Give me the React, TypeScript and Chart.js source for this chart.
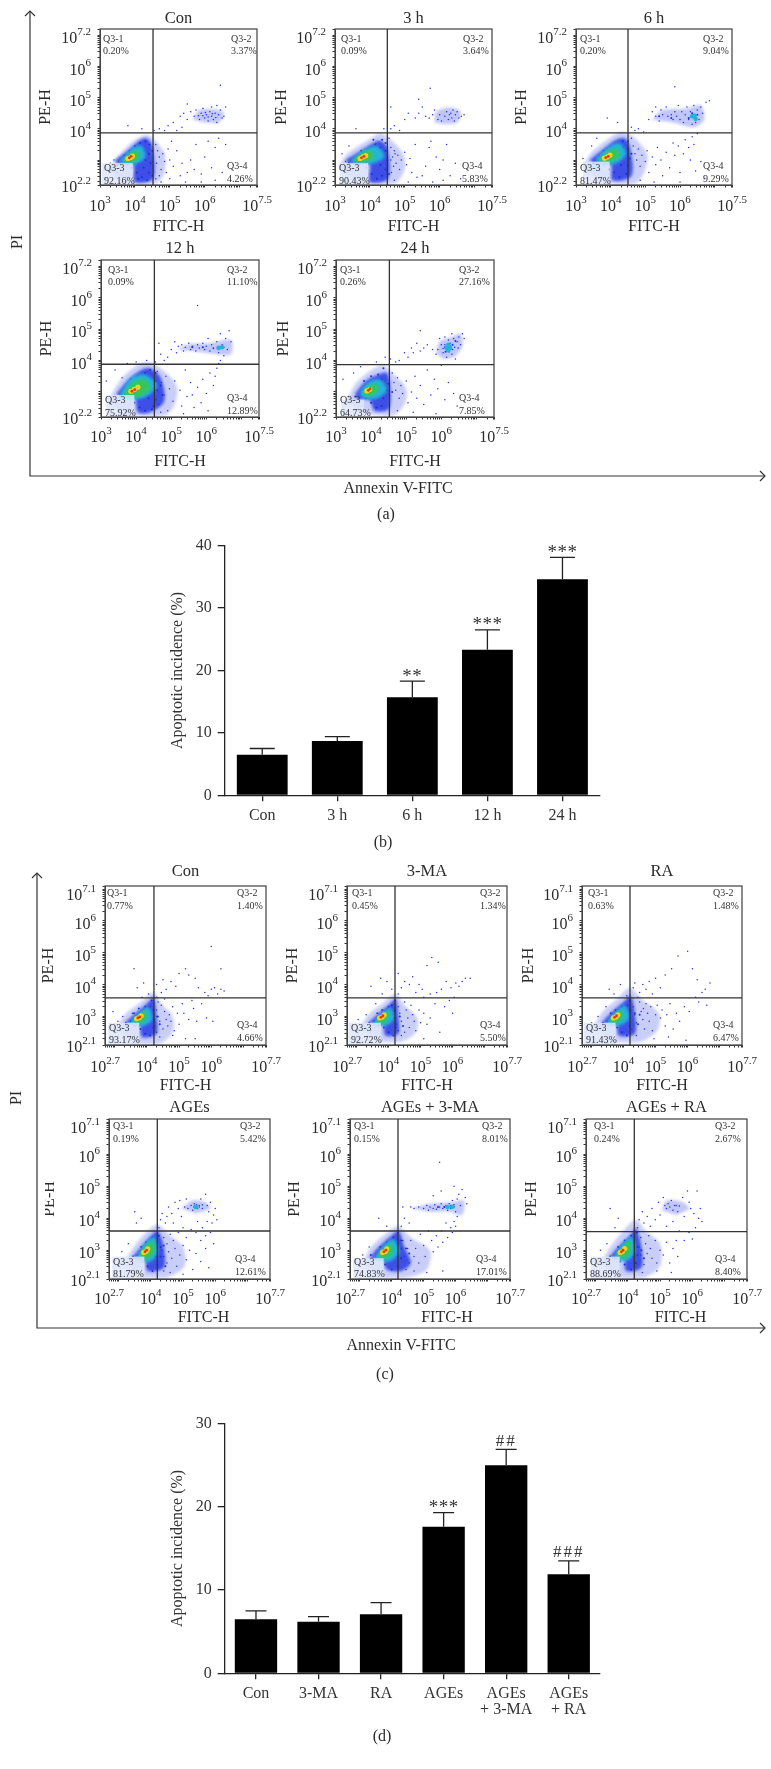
import React, { useEffect, useRef } from "react";
import { Chart, registerables } from "chart.js";
Chart.register(...registerables);

const FONT = "'Liberation Serif'";
const INK = "#2b2b2b";

// ---------- Bar data ----------
const bCats = ["Con", "3 h", "6 h", "12 h", "24 h"];
const bVals = [6.5, 8.7, 15.7, 23.3, 34.6];
const bTops = [7.5, 9.4, 18.3, 26.5, 38.1];
const bMarks = ["", "", "**", "***", "***"];
const dCats = ["Con", "3-MA", "RA", "AGEs", ["AGEs", "+ 3-MA"], ["AGEs", "+ RA"]];
const dVals = [6.5, 6.2, 7.1, 17.6, 25.0, 11.9];
const dTops = [7.5, 6.8, 8.5, 19.3, 26.9, 13.5];
const dMarks = ["", "", "", "***", "##", "###"];

// ---------- Flow-cytometry events (log10 x, log10 y) ----------
const a1Dots = [[4.6,3.5],[4.65,3.3],[4.7,3.1],[4.62,2.9],[4.75,2.7],[4.8,3.2],[4.85,2.95],[4.9,2.6],[4.7,2.5],[4.95,3.35],[5.0,3.0],[5.1,2.8],[5.05,3.6],[5.2,3.3],[5.3,2.5],[5.35,2.9],[5.5,2.6],[5.6,3.0],[5.7,2.7],[5.75,3.5],[5.9,2.55],[6.0,3.1],[6.1,3.6],[6.2,2.75],[6.3,3.4],[6.4,3.7],[6.5,2.6],[6.6,3.5],[4.55,3.95],[4.7,4.0],[4.85,3.95],[4.95,4.1],[5.1,4.2],[5.2,3.95],[5.3,4.4],[5.4,4.5],[5.5,4.3],[5.35,4.05],[5.6,4.55],[5.7,4.4],[5.75,4.6],[5.85,4.3],[5.9,4.5],[5.95,4.65],[6.0,4.35],[6.05,4.45],[6.1,4.25],[6.15,4.55],[6.2,4.4],[6.25,4.3],[6.3,4.5],[6.35,4.2],[6.4,4.45],[6.45,4.6],[6.5,4.35],[6.55,4.4],[6.2,4.7],[6.35,4.75],[6.6,4.7],[6.45,5.4],[5.5,4.8],[3.8,4.1],[4.2,4.0],[3.3,2.9],[3.4,3.0],[3.5,2.6],[3.2,2.7],[4.6,2.4],[4.75,2.3],[5.0,2.4],[5.45,2.3],[5.9,2.3],[6.3,2.35],[5.95,4.42],[6.1,4.38],[6.22,4.48],[6.02,4.52],[5.82,4.42],[6.32,4.36]];
const a1Body = [[3.5,2.85],[3.65,2.95],[3.75,2.85],[3.9,2.75],[4.05,2.6],[4.2,2.45],[4.35,2.35],[4.4,2.6],[4.25,2.75],[4.1,2.9],[4.3,3.0],[4.45,2.9],[4.4,3.2],[4.25,3.3],[4.1,3.3],[4.0,3.45],[4.15,3.55],[4.3,3.6],[4.42,3.5],[3.85,3.3],[3.7,3.15],[4.5,3.3],[4.5,2.5],[4.1,2.4]];
const a1Haze = [[3.25,2.75],[3.5,3.1],[3.95,3.6],[4.35,3.8],[4.6,3.6],[4.85,3.2],[4.85,2.6],[4.6,2.25],[3.6,2.25]];
const a1Blue = [[3.43,3.0],[3.8,3.3],[4.15,3.64],[4.34,3.7],[4.5,3.45],[4.52,2.4],[4.0,2.3],[3.95,2.88],[3.5,2.88]];
const a1Cyan = [[3.55,2.95],[3.95,3.4],[4.2,3.45],[4.3,3.1],[4.0,2.85],[3.7,2.85]];
const a1Green = [[3.65,2.98],[3.9,3.25],[4.1,3.3],[4.12,3.05],[3.9,2.92]];
const a1Yellow = [[3.8,3.05],[3.88,3.08],[3.93,3.13]];
const a1Red = [[3.84,3.07],[3.89,3.12]];
const a1Halo = [[5.65,4.3],[5.85,4.6],[6.3,4.62],[6.55,4.5],[6.4,4.2],[6.0,4.2]];
const a1Spot: number[][] = [];

const a2Dots = [[4.6,4.0],[4.7,4.1],[4.85,3.95],[5.0,4.3],[5.1,4.5],[4.6,4.7],[5.3,4.35],[5.4,4.5],[5.5,4.7],[5.6,4.4],[5.7,4.35],[5.8,4.45],[5.85,4.6],[5.95,4.3],[6.0,4.45],[6.05,4.25],[6.15,4.4],[6.2,4.55],[6.25,4.3],[6.28,4.45],[6.32,4.5],[6.35,4.35],[6.38,4.6],[6.42,4.25],[6.45,4.45],[6.5,4.55],[6.55,4.35],[6.62,4.4],[6.7,4.45],[5.73,5.3],[5.4,4.95],[4.55,3.7],[4.6,3.4],[4.65,3.1],[4.7,3.3],[4.75,2.9],[4.8,3.15],[4.85,2.7],[4.62,2.6],[4.9,3.0],[5.0,3.25],[5.05,2.85],[5.15,3.05],[5.2,2.6],[5.3,3.5],[5.35,2.45],[5.5,2.5],[5.6,2.8],[5.7,3.4],[5.75,3.6],[5.9,3.1],[6.0,2.7],[6.1,3.0],[6.2,3.5],[6.3,2.5],[6.45,2.9],[6.6,2.4],[3.2,3.2],[3.3,2.95],[3.15,2.7],[3.4,3.45],[3.6,4.0],[4.4,4.0],[4.7,2.35],[5.1,2.3],[5.8,2.3],[6.1,2.35],[4.6,3.0],[4.68,2.8],[4.72,3.2]];
const a2Body = [[3.4,2.9],[3.55,3.0],[3.7,2.85],[3.9,2.75],[4.05,2.55],[4.2,2.4],[4.35,2.5],[4.45,2.7],[4.3,2.85],[4.15,2.95],[4.35,3.1],[4.5,3.0],[4.45,3.3],[4.3,3.4],[4.15,3.5],[4.35,3.65],[4.45,3.55],[3.95,3.35],[3.75,3.3],[4.55,2.55],[4.1,3.65],[4.25,3.2]];
const a2Haze = [[3.1,2.8],[3.35,3.2],[3.9,3.6],[4.3,3.85],[4.6,3.65],[4.95,3.2],[5.0,2.7],[4.7,2.25],[3.6,2.25]];
const a2Blue = [[3.3,3.0],[3.75,3.3],[4.1,3.55],[4.3,3.62],[4.5,3.4],[4.52,2.4],[4.0,2.3],[3.98,2.88],[3.4,2.88]];
const a2Cyan = [[3.45,2.98],[3.85,3.35],[4.2,3.45],[4.42,3.1],[4.05,2.88],[3.6,2.88]];
const a2Green = [[3.5,2.98],[3.8,3.25],[4.05,3.3],[4.1,3.05],[3.85,2.93]];
const a2Yellow = [[3.72,3.05],[3.8,3.1],[3.88,3.14]];
const a2Red = [[3.76,3.07],[3.83,3.12]];
const a2Halo = [[5.85,4.2],[5.9,4.55],[6.3,4.68],[6.6,4.55],[6.5,4.2],[6.15,4.15]];
const a2Spot: number[][] = [];

const a3Dots = [[5.1,4.3],[5.2,4.55],[5.3,4.4],[5.4,4.25],[5.45,4.6],[5.5,4.45],[5.6,4.7],[5.65,4.4],[5.75,4.45],[5.8,4.3],[5.85,4.55],[5.9,4.4],[5.95,4.75],[6.0,4.3],[6.05,4.55],[6.1,4.2],[6.15,4.45],[6.2,4.7],[6.25,4.3],[6.3,4.55],[6.35,4.15],[6.4,4.75],[6.45,4.2],[6.5,4.6],[6.55,4.3],[6.6,4.7],[6.65,4.5],[6.75,4.85],[6.85,4.9],[5.85,5.35],[5.3,4.7],[4.6,4.05],[4.7,3.95],[4.8,4.0],[4.95,3.9],[4.6,3.7],[4.65,3.45],[4.7,3.2],[4.75,3.0],[4.8,3.35],[4.85,2.8],[4.9,3.15],[5.0,2.95],[5.05,3.3],[5.1,2.6],[5.2,3.1],[5.3,2.85],[5.35,3.4],[5.45,3.0],[5.5,2.5],[5.6,3.25],[5.7,2.75],[5.8,3.55],[5.85,3.15],[5.95,3.45],[6.0,2.6],[6.1,3.2],[6.15,3.65],[6.25,3.4],[6.3,3.0],[6.35,3.75],[6.4,3.5],[6.45,2.65],[6.5,3.85],[6.6,2.95],[6.7,2.4],[3.2,3.05],[3.3,2.75],[3.45,3.45],[3.6,3.7],[3.9,4.35],[4.2,4.2],[4.85,2.35],[5.25,2.3],[6.0,2.3]];
const a3Body = [[3.5,2.9],[3.65,3.0],[3.8,2.85],[3.95,2.7],[4.1,2.6],[4.25,2.45],[4.45,2.55],[4.5,2.8],[4.3,2.85],[4.15,2.95],[4.35,3.1],[4.55,3.05],[4.5,3.35],[4.35,3.4],[4.2,3.5],[4.35,3.6],[4.5,3.6],[4.0,3.4],[3.8,3.3],[4.6,3.2],[6.25,4.35],[6.4,4.4],[6.35,4.5],[6.5,4.45],[5.4,4.4],[5.75,4.35]];
const a3Haze = [[3.2,2.8],[3.45,3.25],[3.9,3.65],[4.3,3.9],[4.65,3.75],[5.05,3.2],[5.0,2.7],[4.7,2.25],[3.7,2.25]];
const a3Blue = [[3.4,3.0],[3.8,3.35],[4.15,3.65],[4.4,3.7],[4.55,3.45],[4.6,2.5],[4.05,2.35],[4.0,2.88],[3.5,2.88]];
const a3Cyan = [[3.55,3.0],[3.9,3.4],[4.25,3.55],[4.45,3.2],[4.15,2.88],[3.7,2.88]];
const a3Green = [[3.65,3.0],[3.95,3.3],[4.2,3.35],[4.25,3.1],[3.95,2.93]];
const a3Yellow = [[3.82,3.06],[3.9,3.1],[3.98,3.16]];
const a3Red = [[3.86,3.08],[3.93,3.12]];
const a3Halo = [[5.2,4.3],[5.5,4.6],[6.2,4.65],[6.6,4.75],[6.7,4.3],[6.4,4.05],[5.8,4.2]];
const a3Spot = [[6.42,4.42],[6.45,4.32],[6.35,4.4]];

const a4Dots = [[5.0,4.35],[5.1,4.6],[5.15,4.25],[5.2,4.45],[5.3,4.5],[5.35,4.3],[5.4,4.42],[5.5,4.55],[5.55,4.35],[5.6,4.45],[5.7,4.3],[5.75,4.5],[5.8,4.4],[5.9,4.55],[5.95,4.35],[6.0,4.45],[6.05,4.7],[6.1,4.3],[6.15,4.5],[6.2,4.4],[6.3,4.6],[6.35,4.25],[6.4,4.85],[6.45,4.5],[6.5,4.15],[6.55,4.7],[6.6,4.35],[6.65,4.95],[6.7,4.6],[5.75,5.75],[4.65,4.55],[4.7,4.2],[4.55,3.95],[4.8,4.0],[4.9,4.1],[6.35,3.9],[6.4,4.0],[6.3,3.75],[6.25,3.5],[6.2,3.2],[6.1,3.6],[6.0,2.95],[5.9,3.4],[5.85,2.65],[5.75,3.15],[5.65,2.5],[5.55,3.3],[5.45,2.85],[5.4,3.7],[5.3,2.55],[5.25,3.05],[5.1,3.35],[5.05,2.7],[4.95,3.1],[4.85,3.5],[4.8,2.9],[4.72,3.3],[4.65,2.6],[4.6,3.65],[4.9,2.4],[5.6,2.9],[3.15,3.35],[3.25,2.65],[3.4,3.7],[3.6,3.45],[3.75,3.9],[4.0,3.95],[4.3,4.0],[4.7,2.35],[5.35,2.3],[6.05,2.4],[6.2,4.38],[6.32,4.42],[6.42,4.4],[6.5,4.42]];
const a4Body = [[3.55,2.85],[3.7,3.0],[3.8,2.8],[3.95,2.65],[4.1,2.5],[4.25,2.4],[4.45,2.45],[4.55,2.75],[4.35,2.8],[4.2,2.95],[4.4,3.1],[4.6,3.05],[4.75,2.9],[4.55,3.35],[4.4,3.4],[4.25,3.6],[4.4,3.7],[4.55,3.6],[4.05,3.5],[3.85,3.4],[4.7,3.2],[4.5,2.55],[6.4,4.42],[5.6,4.42],[5.9,4.42]];
const a4Haze = [[3.2,2.7],[3.5,3.3],[3.9,3.75],[4.3,3.95],[4.7,3.75],[5.15,3.2],[5.1,2.6],[4.8,2.25],[3.7,2.25]];
const a4Blue = [[3.45,2.95],[3.8,3.4],[4.15,3.7],[4.4,3.75],[4.7,3.45],[4.8,2.7],[4.4,2.35],[4.05,2.35],[3.95,2.85],[3.5,2.85]];
const a4Cyan = [[3.55,2.95],[3.85,3.45],[4.25,3.55],[4.6,3.2],[4.3,2.85],[3.9,2.75],[3.6,2.8]];
const a4Green = [[3.65,2.95],[3.9,3.3],[4.25,3.4],[4.4,3.1],[4.1,2.85],[3.75,2.82]];
const a4Yellow = [[3.85,3.02],[3.95,3.08],[4.05,3.15]];
const a4Red = [[3.88,3.02],[3.96,3.07]];
const a4Halo = [[5.15,4.35],[5.5,4.52],[6.1,4.55],[6.7,4.65],[6.7,4.2],[6.3,4.2],[5.6,4.3]];
const a4Spot = [[6.45,4.42],[6.35,4.4]];

const a5Dots = [[6.0,4.5],[5.9,4.35],[5.85,4.2],[5.95,4.7],[6.05,4.25],[6.1,4.75],[6.15,4.1],[6.2,4.65],[6.3,4.2],[6.35,4.7],[6.4,4.05],[6.45,4.6],[6.5,4.75],[6.55,4.5],[6.6,4.85],[6.65,4.7],[6.3,4.85],[5.75,4.35],[5.6,4.5],[5.5,4.4],[5.4,4.3],[5.3,4.55],[5.2,4.25],[5.15,4.4],[5.05,4.1],[4.95,4.25],[4.8,4.0],[4.7,3.95],[4.55,4.05],[5.4,4.95],[4.4,4.1],[4.6,3.6],[4.65,3.3],[4.7,3.05],[4.75,3.45],[4.8,2.8],[4.85,3.2],[4.9,2.95],[5.0,3.35],[5.05,2.65],[5.15,3.0],[5.25,3.5],[5.3,2.8],[5.4,3.2],[5.5,2.6],[5.6,3.7],[5.7,2.9],[5.8,3.4],[5.9,3.1],[6.0,3.85],[6.1,2.75],[6.2,3.3],[6.35,2.95],[6.45,2.55],[3.2,3.4],[3.35,2.85],[3.5,3.6],[3.7,3.8],[4.15,3.95],[4.75,2.4],[5.2,2.35],[5.85,2.3],[6.1,4.5],[6.25,4.55],[6.38,4.42],[6.48,4.4],[6.05,4.38],[6.22,4.28],[6.32,4.35]];
const a5Body = [[3.55,2.85],[3.7,2.95],[3.85,2.8],[4.0,2.65],[4.15,2.5],[4.3,2.55],[4.35,2.8],[4.2,2.95],[4.45,3.05],[4.6,3.0],[4.5,3.25],[4.3,3.4],[4.2,3.55],[4.35,3.75],[4.0,3.5],[3.8,3.35],[6.1,4.42],[6.25,4.45],[6.18,4.32],[6.32,4.5],[6.12,4.28],[6.4,4.62]];
const a5Haze = [[3.3,2.7],[3.55,3.25],[3.95,3.65],[4.35,3.85],[4.65,3.55],[5.0,3.1],[4.95,2.6],[4.6,2.25],[3.8,2.3]];
const a5Blue = [[3.55,2.95],[3.85,3.35],[4.2,3.55],[4.45,3.6],[4.55,3.1],[4.5,2.45],[4.1,2.4],[3.95,2.75],[3.6,2.75]];
const a5Cyan = [[3.65,2.95],[3.9,3.3],[4.25,3.4],[4.45,3.05],[4.15,2.78],[3.8,2.78]];
const a5Green = [[3.75,2.95],[3.95,3.2],[4.15,3.25],[4.2,3.02],[3.95,2.85]];
const a5Yellow = [[3.88,3.03],[3.96,3.08]];
const a5Red = [[3.92,3.05],[3.97,3.1]];
const a5Halo = [[5.85,4.25],[5.95,4.6],[6.3,4.75],[6.55,4.85],[6.6,4.45],[6.35,4.1],[6.05,4.05]];
const a5Spot = [[6.15,4.4],[6.25,4.4],[6.2,4.5],[6.2,4.32]];

const c1Dots = [[4.3,3.6],[4.45,3.75],[4.6,3.85],[4.3,4.0],[4.5,4.15],[4.75,4.1],[4.9,3.95],[5.0,4.35],[5.2,4.5],[5.3,4.3],[5.5,4.2],[5.6,3.9],[5.8,3.75],[5.9,3.65],[6.0,3.85],[6.1,3.9],[6.2,3.7],[6.3,3.85],[6.4,3.8],[6.0,5.2],[6.3,4.5],[3.6,4.5],[3.9,4.05],[3.7,3.9],[4.05,3.7],[3.85,3.6],[3.55,3.1],[3.25,3.0],[3.1,2.85],[2.95,3.15],[4.3,3.2],[4.35,3.0],[4.4,2.85],[4.25,2.7],[4.5,2.6],[4.45,3.35],[4.55,3.15],[4.6,2.9],[4.65,2.7],[4.7,3.05],[4.75,2.85],[4.8,3.3],[4.85,2.55],[4.95,3.1],[5.0,2.75],[5.1,3.4],[5.15,3.1],[5.3,2.9],[5.4,3.5],[5.45,3.25],[5.55,2.85],[5.7,3.4],[5.85,2.95],[6.05,2.85],[5.2,2.3],[5.5,2.3],[4.4,2.35],[4.8,2.4],[4.3,2.5],[4.35,3.45],[4.55,3.55]];
const c1Body = [[3.35,2.8],[3.5,2.85],[3.65,2.7],[3.8,2.6],[3.95,2.45],[4.1,2.4],[4.2,2.65],[4.2,2.9],[4.05,2.95],[4.2,3.2],[4.1,3.3],[4.15,3.5],[3.95,3.3],[3.75,3.25],[3.6,3.1],[4.32,3.0],[4.4,2.75]];
const c1Haze = [[3.05,2.65],[3.35,3.1],[3.75,3.4],[4.2,3.75],[4.45,3.4],[4.8,3.0],[4.8,2.5],[4.4,2.15],[3.6,2.15]];
const c1Blue = [[3.3,2.78],[3.65,3.1],[4.0,3.4],[4.2,3.6],[4.3,3.0],[4.3,2.45],[3.85,2.35],[3.8,2.75]];
const c1Cyan = [[3.45,2.8],[3.8,3.15],[4.05,3.3],[4.17,2.9],[3.9,2.7],[3.55,2.72]];
const c1Green = [[3.55,2.84],[3.8,3.08],[3.97,3.18],[3.97,2.92],[3.75,2.75]];
const c1Yellow = [[3.68,2.93],[3.76,2.96],[3.82,3.02]];
const c1Red = [[3.72,2.95],[3.78,2.98]];
const c1Halo: number[][] = [];
const c1Spot: number[][] = [];

const c2Dots = [[4.3,3.7],[4.4,3.9],[4.5,4.1],[4.3,4.35],[4.65,4.0],[4.75,4.25],[4.85,3.75],[4.95,4.0],[5.05,3.85],[5.2,4.6],[5.35,4.85],[5.55,4.7],[5.1,3.6],[5.3,3.7],[5.5,3.75],[5.65,3.85],[5.8,4.1],[5.95,3.9],[6.05,3.6],[6.1,4.05],[6.2,3.95],[6.3,4.1],[6.4,4.2],[6.55,4.2],[5.75,3.3],[5.9,3.5],[6.0,3.1],[3.45,3.95],[3.75,4.2],[3.95,4.1],[4.1,3.85],[3.8,3.7],[3.6,3.4],[3.3,3.05],[3.05,2.9],[4.3,3.3],[4.35,3.1],[4.4,2.85],[4.25,2.75],[4.5,3.45],[4.55,3.2],[4.6,2.95],[4.65,2.65],[4.7,3.35],[4.75,3.05],[4.8,2.85],[4.85,2.55],[4.95,3.2],[5.0,2.8],[5.1,3.1],[5.2,2.75],[5.3,2.95],[5.45,3.4],[5.6,2.5],[5.1,2.3],[4.4,2.4],[4.5,2.5],[4.3,2.55]];
const c2Body = [[3.4,2.8],[3.55,2.85],[3.7,2.72],[3.85,2.65],[4.0,2.5],[4.15,2.4],[4.22,2.65],[4.2,2.95],[4.05,2.9],[4.2,3.2],[4.1,3.35],[4.2,3.5],[4.0,3.3],[3.8,3.2],[3.65,3.1],[4.35,3.0],[4.45,2.7]];
const c2Haze = [[3.1,2.65],[3.4,3.1],[3.8,3.4],[4.2,3.7],[4.5,3.35],[4.9,2.95],[4.85,2.5],[4.4,2.2],[3.7,2.2]];
const c2Blue = [[3.35,2.78],[3.7,3.1],[4.05,3.4],[4.22,3.55],[4.3,3.05],[4.3,2.45],[3.9,2.4],[3.85,2.75]];
const c2Cyan = [[3.5,2.8],[3.82,3.12],[4.05,3.28],[4.18,2.95],[3.95,2.72],[3.6,2.72]];
const c2Green = [[3.6,2.86],[3.82,3.06],[3.98,3.15],[3.98,2.92],[3.8,2.76]];
const c2Yellow = [[3.72,2.95],[3.8,2.98],[3.86,3.05]];
const c2Red = [[3.76,2.97],[3.82,3.02]];
const c2Halo: number[][] = [];
const c2Spot: number[][] = [];

const c3Dots = [[4.3,3.9],[4.35,4.05],[4.5,3.75],[4.6,4.0],[4.7,3.85],[4.8,4.1],[4.9,3.7],[5.0,4.2],[5.15,3.9],[5.3,4.3],[5.5,4.5],[5.7,4.9],[6.0,5.05],[6.15,4.5],[6.25,3.6],[6.35,3.45],[6.45,3.75],[6.55,3.85],[6.7,4.05],[6.6,3.35],[6.3,4.15],[6.05,3.15],[5.9,3.3],[5.75,2.85],[3.55,3.85],[3.7,3.7],[3.9,4.0],[4.1,3.65],[3.45,3.3],[3.2,3.0],[3.0,2.8],[4.3,3.3],[4.35,3.05],[4.4,2.8],[4.5,3.45],[4.55,3.15],[4.6,2.9],[4.65,2.6],[4.7,3.4],[4.75,3.1],[4.8,2.85],[4.85,3.3],[4.9,2.55],[5.0,3.05],[5.05,3.35],[5.15,2.95],[5.2,3.2],[5.3,2.7],[5.35,3.05],[5.45,3.4],[5.55,2.6],[5.65,3.1],[4.4,2.4],[4.95,2.3],[5.4,2.35],[5.95,2.25],[4.25,2.6],[4.45,3.6],[4.62,3.25]];
const c3Body = [[3.35,2.8],[3.5,2.85],[3.65,2.72],[3.8,2.65],[3.95,2.5],[4.1,2.4],[4.2,2.7],[4.2,2.95],[4.05,2.9],[4.2,3.2],[4.12,3.35],[4.2,3.5],[3.95,3.3],[3.75,3.2],[3.6,3.1],[4.35,3.1],[4.45,2.75],[4.5,3.05]];
const c3Haze = [[3.05,2.65],[3.35,3.15],[3.75,3.5],[4.2,3.9],[4.55,3.55],[5.1,3.1],[5.05,2.55],[4.5,2.2],[3.65,2.2]];
const c3Blue = [[3.3,2.78],[3.65,3.15],[4.0,3.45],[4.22,3.65],[4.35,3.1],[4.35,2.45],[3.85,2.4],[3.8,2.75]];
const c3Cyan = [[3.45,2.8],[3.75,3.15],[4.03,3.35],[4.18,2.95],[3.9,2.72],[3.55,2.72]];
const c3Green = [[3.55,2.86],[3.76,3.08],[3.95,3.2],[3.95,2.92],[3.72,2.76]];
const c3Yellow = [[3.68,2.95],[3.76,2.98],[3.82,3.05]];
const c3Red = [[3.72,2.97],[3.78,3.02]];
const c3Halo: number[][] = [];
const c3Spot: number[][] = [];

const c4Dots = [[4.25,3.7],[4.3,3.95],[4.35,4.15],[4.45,3.85],[4.5,4.05],[4.55,4.35],[4.65,4.15],[4.7,3.85],[4.75,4.5],[4.85,4.3],[4.9,4.55],[4.95,4.05],[5.05,4.35],[5.1,4.6],[5.15,4.3],[5.25,4.4],[5.3,4.25],[5.35,4.45],[5.45,4.3],[5.5,4.35],[5.55,4.6],[5.6,4.3],[5.7,4.75],[5.75,4.4],[5.8,4.2],[5.85,4.5],[5.95,4.1],[6.0,4.3],[6.05,3.95],[5.9,3.85],[5.75,3.9],[5.6,3.7],[5.45,3.9],[5.85,3.55],[5.7,3.45],[5.55,3.3],[5.4,3.55],[5.25,3.65],[5.1,3.4],[5.0,3.7],[4.85,3.55],[4.7,3.3],[4.6,3.5],[4.5,3.2],[4.4,3.4],[4.35,3.0],[4.4,2.8],[4.5,2.6],[4.55,2.95],[4.65,2.75],[4.75,3.05],[4.8,2.5],[4.9,2.85],[5.0,3.15],[5.1,2.7],[5.2,3.0],[5.3,2.4],[5.4,2.9],[5.55,2.65],[5.7,3.05],[5.8,2.45],[5.95,3.2],[3.5,4.2],[3.7,4.0],[3.55,3.85],[3.3,3.2],[3.1,2.95],[4.4,2.35],[4.6,2.3],[5.0,2.25],[5.35,4.38],[5.42,4.42],[5.5,4.4],[5.6,4.42]];
const c4Body = [[3.45,2.8],[3.6,2.75],[3.75,2.65],[3.9,2.5],[4.05,2.35],[4.2,2.55],[4.3,2.8],[4.15,2.8],[4.3,3.1],[4.15,3.2],[4.25,3.45],[4.05,3.4],[3.85,3.25],[3.7,3.1],[4.4,3.15],[4.45,2.5],[5.35,4.35]];
const c4Haze = [[3.15,2.6],[3.5,3.15],[3.85,3.55],[4.2,3.8],[4.55,3.5],[5.0,3.1],[5.05,2.5],[4.5,2.15],[3.7,2.15]];
const c4Blue = [[3.4,2.75],[3.7,3.1],[4.05,3.5],[4.22,3.6],[4.4,3.1],[4.4,2.45],[3.9,2.35],[3.85,2.75]];
const c4Cyan = [[3.55,2.75],[3.8,3.2],[4.1,3.42],[4.22,2.95],[4.0,2.65],[3.65,2.65]];
const c4Green = [[3.62,2.8],[3.82,3.12],[4.05,3.28],[4.1,2.92],[3.85,2.7]];
const c4Yellow = [[3.78,2.93],[3.85,2.96],[3.9,3.04]];
const c4Red = [[3.82,2.95],[3.87,3.0]];
const c4Halo = [[4.95,4.3],[5.3,4.55],[5.7,4.5],[5.85,4.3],[5.4,4.15]];
const c4Spot = [[5.4,4.35]];

const c5Dots = [[4.6,4.35],[4.7,4.3],[4.85,4.35],[5.0,4.3],[5.1,4.4],[5.15,4.25],[5.2,4.35],[5.3,4.3],[5.35,4.42],[5.4,4.28],[5.5,4.35],[5.55,4.45],[5.6,4.3],[5.7,4.4],[5.75,4.25],[5.8,4.45],[5.85,4.3],[5.9,4.55],[5.95,4.35],[6.0,4.2],[6.05,4.6],[6.1,4.75],[6.15,4.4],[6.2,4.9],[6.3,4.65],[6.35,4.45],[5.5,5.75],[5.55,4.85],[5.95,5.0],[5.3,4.7],[4.35,4.35],[4.4,4.0],[4.55,3.85],[4.3,3.75],[5.95,3.9],[6.0,3.75],[6.05,4.05],[5.9,3.55],[5.85,3.7],[5.75,3.4],[5.7,3.85],[5.6,3.25],[5.55,3.6],[5.45,3.1],[5.4,3.45],[5.3,2.95],[5.25,3.3],[5.15,3.6],[5.05,2.8],[5.0,3.15],[4.9,3.5],[4.85,2.6],[4.75,3.05],[4.7,2.8],[4.6,3.3],[4.55,2.6],[4.5,3.05],[4.4,2.8],[4.35,3.3],[3.6,4.0],[3.85,3.75],[3.3,3.1],[3.1,2.85],[5.1,2.3],[5.6,2.35],[4.7,2.35],[4.45,2.4],[5.95,4.42],[5.85,4.4],[5.75,4.33],[5.65,4.36]];
const c5Body = [[3.35,2.85],[3.5,2.75],[3.65,2.7],[3.8,2.55],[4.0,2.4],[4.2,2.5],[4.3,2.75],[4.15,2.8],[4.3,3.05],[4.15,3.2],[4.3,3.3],[4.2,3.55],[4.05,3.4],[3.85,3.25],[3.65,3.1],[4.45,3.05],[4.55,2.9],[5.85,4.35],[5.65,4.35],[5.45,4.35]];
const c5Haze = [[3.1,2.6],[3.35,3.1],[3.8,3.5],[4.2,3.75],[4.6,3.4],[5.2,3.0],[5.1,2.4],[4.5,2.15],[3.6,2.15]];
const c5Blue = [[3.3,2.75],[3.6,3.1],[4.0,3.45],[4.22,3.6],[4.4,3.1],[4.6,2.6],[4.3,2.35],[3.85,2.4],[3.75,2.75]];
const c5Cyan = [[3.45,2.75],[3.75,3.15],[4.05,3.35],[4.25,2.95],[3.95,2.65],[3.55,2.68]];
const c5Green = [[3.55,2.82],[3.78,3.08],[4.0,3.2],[4.02,2.9],[3.78,2.72]];
const c5Yellow = [[3.72,2.93],[3.8,2.96],[3.85,3.04]];
const c5Red = [[3.76,2.95],[3.82,3.0]];
const c5Halo = [[4.6,4.3],[5.2,4.45],[5.9,4.5],[6.25,4.55],[6.2,4.1],[5.8,4.2],[5.2,4.2]];
const c5Spot = [[5.9,4.36],[5.75,4.35]];

const c6Dots = [[4.3,3.7],[4.35,3.95],[4.45,4.2],[4.5,3.85],[4.6,4.05],[4.7,3.75],[4.75,4.3],[4.85,3.95],[4.95,4.5],[5.0,4.1],[5.1,4.65],[5.15,4.4],[5.2,4.3],[5.3,4.35],[5.35,4.55],[5.4,4.25],[5.5,4.4],[5.55,4.2],[5.6,4.38],[5.7,4.65],[5.75,4.05],[5.85,4.85],[5.9,4.5],[5.95,4.3],[6.05,4.15],[6.15,4.85],[6.2,4.0],[6.3,3.9],[6.25,4.3],[5.2,3.75],[5.4,3.9],[5.6,3.6],[5.75,3.3],[5.9,3.55],[6.0,3.35],[6.1,3.7],[5.5,3.3],[3.45,4.3],[3.7,4.0],[3.6,3.7],[3.35,3.2],[3.15,3.0],[4.4,3.4],[4.35,3.1],[4.4,2.85],[4.5,2.55],[4.55,3.2],[4.6,2.9],[4.65,3.45],[4.7,3.05],[4.75,2.75],[4.85,3.3],[4.9,2.6],[5.0,3.0],[5.1,2.85],[5.2,3.25],[5.3,2.6],[5.4,3.05],[5.55,2.8],[4.45,2.3],[4.9,2.35],[5.35,2.3],[5.25,4.45],[5.45,4.4]];
const c6Body = [[3.45,2.8],[3.6,2.75],[3.75,2.65],[3.9,2.55],[4.1,2.4],[4.25,2.6],[4.3,2.85],[4.15,2.8],[4.3,3.1],[4.18,3.25],[4.28,3.55],[4.1,3.45],[3.9,3.3],[3.7,3.1],[4.42,3.0],[4.5,2.75]];
const c6Haze = [[3.15,2.6],[3.45,3.1],[3.85,3.6],[4.25,3.95],[4.55,3.6],[5.0,3.2],[5.0,2.5],[4.5,2.15],[3.7,2.15]];
const c6Blue = [[3.4,2.75],[3.7,3.1],[4.1,3.5],[4.25,3.7],[4.42,3.1],[4.42,2.45],[3.95,2.35],[3.9,2.75]];
const c6Cyan = [[3.55,2.78],[3.82,3.18],[4.12,3.42],[4.22,2.95],[4.0,2.68],[3.65,2.68]];
const c6Green = [[3.65,2.84],[3.85,3.12],[4.07,3.3],[4.08,2.92],[3.85,2.72]];
const c6Yellow = [[3.76,2.93],[3.83,2.96],[3.9,3.05]];
const c6Red = [[3.8,2.95],[3.85,3.0]];
const c6Halo = [[5.05,4.25],[5.2,4.55],[5.7,4.5],[5.9,4.3],[5.5,4.1]];
const c6Spot: number[][] = [];

// ---------- Axis tick exponents ----------
const aXLabels = [3, 4, 5, 6, 7.5];
const aYLabels = [2.2, 4, 5, 6, 7.2];
const cXLabels = [2.7, 4, 5, 6, 7.7];
const cYLabels = [2.1, 3, 4, 5, 6, 7.1];

type Panel = any;
const panels: Panel[] = [
  { t: "Con", box: [100, 29, 157, 156], gx: 4.52, gy: 3.87, sx: 3, ex: 7.5, sy: 2.2, ey: 7.2, xl: aXLabels, yl: aYLabels, pct: ["0.20%", "3.37%", "92.16%", "4.26%"], d: [a1Dots, a1Body, a1Haze, a1Blue, a1Cyan, a1Green, a1Yellow, a1Red, a1Halo, a1Spot], pale: [3.05, 3.94, 2.2, 2.9], q: [3, -26, -30], pe: -54, fx: 0, ty: -10, fy: 42, xy: 22, row: "a" },
  { t: "3 h", box: [335, 29, 157, 156], gx: 4.5, gy: 3.87, sx: 3, ex: 7.5, sy: 2.2, ey: 7.2, xl: aXLabels, yl: aYLabels, pct: ["0.09%", "3.64%", "90.43%", "5.83%"], d: [a2Dots, a2Body, a2Haze, a2Blue, a2Cyan, a2Green, a2Yellow, a2Red, a2Halo, a2Spot], pale: [3.14, 3.95, 2.2, 2.9], q: [6, -29, -30], pe: -53, fx: 0, ty: -10, fy: 42, xy: 22, row: "a" },
  { t: "6 h", box: [576, 29, 156, 156], gx: 4.5, gy: 3.87, sx: 3, ex: 7.5, sy: 2.2, ey: 7.2, xl: aXLabels, yl: aYLabels, pct: ["0.20%", "9.04%", "81.47%", "9.29%"], d: [a3Dots, a3Body, a3Haze, a3Blue, a3Cyan, a3Green, a3Yellow, a3Red, a3Halo, a3Spot], pale: [3.2, 3.97, 2.2, 2.95], q: [4, -29, -29], pe: -54, fx: 0, ty: -10, fy: 42, xy: 22, row: "a" },
  { t: "12 h", box: [101, 260, 158, 157], gx: 4.52, gy: 3.88, sx: 3, ex: 7.5, sy: 2.2, ey: 7.2, xl: aXLabels, yl: aYLabels, pct: ["0.09%", "11.10%", "75.92%", "12.89%"], d: [a4Dots, a4Body, a4Haze, a4Blue, a4Cyan, a4Green, a4Yellow, a4Red, a4Halo, a4Spot], pale: [3.15, 3.95, 2.2, 2.9], q: [7, -32, -32], pe: -54, fx: 0, ty: -11, fy: 45, xy: 21, row: "a" },
  { t: "24 h", box: [336, 260, 158, 157], gx: 4.52, gy: 3.87, sx: 3, ex: 7.5, sy: 2.2, ey: 7.2, xl: aXLabels, yl: aYLabels, pct: ["0.26%", "27.16%", "64.73%", "7.85%"], d: [a5Dots, a5Body, a5Haze, a5Blue, a5Cyan, a5Green, a5Yellow, a5Red, a5Halo, a5Spot], pale: [3.15, 3.8, 2.2, 2.75], q: [4, -35, -35], pe: -52, fx: 0, ty: -11, fy: 45, xy: 21, row: "a" },
  { t: "Con", box: [105, 886, 161, 159], gx: 4.22, gy: 3.58, sx: 2.7, ex: 7.7, sy: 2.1, ey: 7.1, xl: cXLabels, yl: cYLabels, pct: ["0.77%", "1.40%", "93.17%", "4.66%"], d: [c1Dots, c1Body, c1Haze, c1Blue, c1Cyan, c1Green, c1Yellow, c1Red, c1Halo, c1Spot], pale: [2.8, 3.76, 2.1, 2.8], q: [2, -29, -29], pe: -56, fx: 0, ty: -14, fy: 41, xy: 23, row: "c" },
  { t: "3-MA", box: [347, 886, 160, 159], gx: 4.2, gy: 3.58, sx: 2.7, ex: 7.7, sy: 2.1, ey: 7.1, xl: cXLabels, yl: cYLabels, pct: ["0.45%", "1.34%", "92.72%", "5.50%"], d: [c2Dots, c2Body, c2Haze, c2Blue, c2Cyan, c2Green, c2Yellow, c2Red, c2Halo, c2Spot], pale: [2.75, 3.76, 2.1, 2.8], q: [5, -27, -27], pe: -54, fx: 0, ty: -14, fy: 41, xy: 23, row: "c" },
  { t: "RA", box: [582, 886, 160, 159], gx: 4.2, gy: 3.58, sx: 2.7, ex: 7.7, sy: 2.1, ey: 7.1, xl: cXLabels, yl: cYLabels, pct: ["0.63%", "1.48%", "91.43%", "6.47%"], d: [c3Dots, c3Body, c3Haze, c3Blue, c3Cyan, c3Green, c3Yellow, c3Red, c3Halo, c3Spot], pale: [2.75, 3.75, 2.1, 2.8], q: [6, -29, -29], pe: -53, fx: 0, ty: -14, fy: 41, xy: 23, row: "c" },
  { t: "AGEs", box: [109, 1119, 161, 160], gx: 4.2, gy: 3.6, sx: 2.7, ex: 7.7, sy: 2.1, ey: 7.1, xl: cXLabels, yl: cYLabels, pct: ["0.19%", "5.42%", "81.79%", "12.61%"], d: [c4Dots, c4Body, c4Haze, c4Blue, c4Cyan, c4Green, c4Yellow, c4Red, c4Halo, c4Spot], pale: [2.8, 3.8, 2.1, 2.8], q: [4, -30, -35], pe: -59, fx: 14, ty: -11, fy: 39, xy: 21, row: "c" },
  { t: "AGEs + 3-MA", box: [350, 1119, 160, 160], gx: 4.2, gy: 3.6, sx: 2.7, ex: 7.7, sy: 2.1, ey: 7.1, xl: cXLabels, yl: cYLabels, pct: ["0.15%", "8.01%", "74.83%", "17.01%"], d: [c5Dots, c5Body, c5Haze, c5Blue, c5Cyan, c5Green, c5Yellow, c5Red, c5Halo, c5Spot], pale: [2.8, 3.75, 2.1, 2.75], q: [4, -28, -34], pe: -55, fx: 17, ty: -11, fy: 39, xy: 21, row: "c" },
  { t: "AGEs + RA", box: [586, 1119, 161, 160], gx: 4.2, gy: 3.58, sx: 2.7, ex: 7.7, sy: 2.1, ey: 7.1, xl: cXLabels, yl: cYLabels, pct: ["0.24%", "2.67%", "88.69%", "8.40%"], d: [c6Dots, c6Body, c6Haze, c6Blue, c6Cyan, c6Green, c6Yellow, c6Red, c6Halo, c6Spot], pale: [2.85, 3.75, 2.1, 2.8], q: [8, -32, -32], pe: -54, fx: 14, ty: -11, fy: 39, xy: 21, row: "c" },
];

const ML = 64, MT = 24, MR = 30, MB = 60;
const toPts = (arr: number[][]) => arr.map(([x, y]) => ({ x: 10 ** x, y: 10 ** y }));

function logTicks(lo: number, hi: number) {
  const out: number[] = [10 ** lo];
  for (let d = Math.floor(lo); d <= Math.ceil(hi); d++) {
    for (let m = 1; m < 10; m++) {
      const v = m * 10 ** d;
      if (v > 10 ** lo && v < 10 ** hi) out.push(v);
    }
  }
  out.push(10 ** hi);
  return out;
}

function drawPow(ctx: CanvasRenderingContext2D, x: number, y: number, exp: number, mode: "center" | "right") {
  ctx.textBaseline = "middle";
  ctx.textAlign = "left";
  ctx.font = `16px ${FONT}`;
  const w1 = ctx.measureText("10").width;
  ctx.font = `11px ${FONT}`;
  const s = String(exp);
  const w2 = ctx.measureText(s).width;
  const left = mode === "center" ? x - (w1 + w2) / 2 : x - (w1 + w2);
  ctx.font = `16px ${FONT}`;
  ctx.fillText("10", left, y);
  ctx.font = `11px ${FONT}`;
  ctx.fillText(s, left + w1, y - 7);
}

// Softens the density contours: the filler paints inside its own beforeDatasetDraw, which runs before this one.
const softPlugin = {
  id: "softFill",
  beforeDatasetsDraw(chart: any) { chart.ctx.save(); chart.ctx.filter = "blur(1.8px)"; },
  beforeDatasetDraw(chart: any) { chart.ctx.filter = "none"; },
  afterDatasetDraw(chart: any) { chart.ctx.filter = "blur(1.8px)"; },
  afterDatasetsDraw(chart: any) { chart.ctx.filter = "none"; chart.ctx.restore(); },
};

const panelPlugin = {
  id: "panelText",
  afterDatasetsDraw(chart: any) {
    const p: Panel = chart.options.plugins.panelText.panel;
    const { ctx, chartArea: a, scales } = chart;
    const X = (e: number) => scales.x.getPixelForValue(10 ** e);
    const Y = (e: number) => scales.y.getPixelForValue(10 ** e);
    ctx.save();
    // pale backing behind the Q3-3 gate label
    ctx.fillStyle = "rgba(222,230,250,0.86)";
    ctx.fillRect(X(p.pale[0]), Y(p.pale[3]), X(p.pale[1]) - X(p.pale[0]), Y(p.pale[2]) - Y(p.pale[3]));
    // frame
    ctx.strokeStyle = "#4d4d4d";
    ctx.lineWidth = 1.3;
    ctx.strokeRect(a.left, a.top, a.right - a.left, a.bottom - a.top);
    // gates
    ctx.strokeStyle = "#333";
    ctx.lineWidth = 1.3;
    ctx.beginPath();
    ctx.moveTo(X(p.gx), a.top); ctx.lineTo(X(p.gx), a.bottom);
    ctx.moveTo(a.left, Y(p.gy)); ctx.lineTo(a.right, Y(p.gy));
    ctx.stroke();

    ctx.fillStyle = "#333";
    ctx.font = `10px ${FONT}`;
    ctx.textBaseline = "middle";
    ctx.textAlign = "left";
    const isA = p.row === "a";
    const t1 = a.top + (isA ? 10 : 7), t2 = a.top + (isA ? 22 : 20);
    const b3a = a.bottom - 17, b3b = a.bottom - (isA ? 4 : 5);
    const b4a = a.bottom - (isA ? 19 : 20), b4b = a.bottom - (isA ? 6 : 7);
    ctx.fillText("Q3-1", a.left + p.q[0], t1);
    ctx.fillText(p.pct[0], a.left + p.q[0], t2);
    ctx.fillText("Q3-2", a.right + p.q[1], t1);
    ctx.fillText(p.pct[1], a.right + p.q[1], t2);
    ctx.fillText("Q3-3", a.left + 4, b3a);
    ctx.fillText(p.pct[2], a.left + 4, b3b);
    ctx.fillText("Q3-4", a.right + p.q[2], b4a);
    ctx.fillText(p.pct[3], a.right + p.q[2], b4b);

    ctx.fillStyle = INK;
    p.xl.forEach((e: number) => drawPow(ctx, X(e), a.bottom + p.xy, e, "center"));
    p.yl.forEach((e: number) => {
      const dy = e === p.ey ? 10 : e === p.sy ? 3 : 4;
      drawPow(ctx, a.left - 9, Y(e) + dy, e, "right");
    });

    ctx.font = `16.5px ${FONT}`;
    ctx.textAlign = "center";
    ctx.textBaseline = "middle";
    const cx = (a.left + a.right) / 2, cy = (a.top + a.bottom) / 2;
    ctx.fillText(p.t, cx, a.top + p.ty);
    ctx.font = `16px ${FONT}`;
    ctx.fillText("FITC-H", cx + p.fx, a.bottom + p.fy);
    ctx.save();
    ctx.translate(a.left + p.pe, cy);
    ctx.rotate(-Math.PI / 2);
    ctx.fillText("PE-H", 0, 0);
    ctx.restore();
    ctx.restore();
  },
};

function scatterConfig(p: Panel): any {
  const [dots, body, haze, blue, cyan, green, yellow, red, halo, spot] = p.d;
  const pts = (data: number[][], color: string, r: number) => ({
    data: toPts(data), backgroundColor: color, borderWidth: 0, pointRadius: r, pointHoverRadius: r,
  });
  const area = (data: number[][], color: string) => ({
    data: toPts(data), showLine: true, fill: "shape", tension: 0.3, backgroundColor: color,
    borderWidth: 0, borderColor: "transparent", pointRadius: 0,
  });
  return {
    type: "scatter",
    data: {
      datasets: [
        pts(red, "#e3341c", 1.4),
        pts(yellow, "#ecd520", 2.6),
        pts(spot, "#22b3dc", 2.3),
        area(green, "#35c65a"),
        area(cyan, "#25b4dc"),
        pts(dots, "#2431e6", 0.75),
        pts(body, "#1a2fe0", 1.0),
        area(blue, "rgba(26,48,226,0.8)"),
        area(haze, "rgba(45,65,232,0.26)"),
        area(halo, "rgba(45,65,232,0.3)"),
      ],
    },
    options: {
      responsive: false,
      animation: false,
      events: [],
      layout: { padding: { top: MT, right: MR, left: 0, bottom: 0 } },
      plugins: { legend: { display: false }, tooltip: { enabled: false }, panelText: { panel: p } },
      scales: {
        x: {
          type: "logarithmic", min: 10 ** p.sx, max: 10 ** p.ex,
          afterBuildTicks: (s: any) => { s.ticks = logTicks(p.sx, p.ex).map((value) => ({ value })); },
          afterFit: (s: any) => { s.height = MB; },
          ticks: { display: false },
          border: { color: "#333", width: 1 },
          grid: { drawOnChartArea: false, drawTicks: true, tickLength: 2.5, color: "#333" },
        },
        y: {
          type: "logarithmic", min: 10 ** p.sy, max: 10 ** p.ey,
          afterBuildTicks: (s: any) => { s.ticks = logTicks(p.sy, p.ey).map((value) => ({ value })); },
          afterFit: (s: any) => { s.width = ML; },
          ticks: { display: false },
          border: { color: "#333", width: 1 },
          grid: { drawOnChartArea: false, drawTicks: true, tickLength: 2.5, color: "#333" },
        },
      },
    },
    plugins: [softPlugin, panelPlugin],
  };
}

const errorPlugin = {
  id: "errs",
  afterDatasetsDraw(chart: any) {
    const o = chart.options.plugins.errs;
    const { ctx, scales } = chart;
    const meta = chart.getDatasetMeta(0);
    ctx.save();
    o.tops.forEach((top: number, i: number) => {
      const x = meta.data[i].x;
      const y0 = scales.y.getPixelForValue(o.vals[i]);
      const y1 = scales.y.getPixelForValue(top);
      ctx.strokeStyle = "#222";
      ctx.lineWidth = 1.3;
      ctx.beginPath();
      ctx.moveTo(x, y0); ctx.lineTo(x, y1);
      ctx.moveTo(x - o.cap / 2, y1); ctx.lineTo(x + o.cap / 2, y1);
      ctx.stroke();
      const m = o.marks[i];
      if (m) {
        const star = m[0] === "*";
        ctx.fillStyle = "#333";
        ctx.textAlign = "center";
        ctx.textBaseline = "alphabetic";
        (ctx as any).letterSpacing = star ? "0.5px" : "2px";
        ctx.font = `${star ? 19 : 17}px ${FONT}`;
        ctx.fillText(m, x, y1 + (star ? 0.5 : -3.5));
        (ctx as any).letterSpacing = "0px";
      }
    });
    ctx.restore();
  },
};

function barConfig(cats: any[], vals: number[], tops: number[], marks: string[], yMax: number, step: number, cap: number, mb: number): any {
  return {
    type: "bar",
    data: { labels: cats, datasets: [{ data: vals, backgroundColor: "#000", barPercentage: 0.677, categoryPercentage: 1 }] },
    options: {
      responsive: false,
      animation: false,
      events: [],
      layout: { padding: { top: 15, right: 20, left: 0, bottom: 0 } },
      plugins: { legend: { display: false }, tooltip: { enabled: false }, errs: { tops, vals, marks, cap } },
      scales: {
        x: {
          offset: true,
          afterFit: (s: any) => { s.height = mb; },
          border: { color: "#222", width: 1.3 },
          grid: { drawOnChartArea: false, offset: false, tickLength: 6, color: "#222", lineWidth: 1.3 },
          ticks: { color: "#333", maxRotation: 0, autoSkip: false, padding: 6, font: { family: FONT, size: 16, lineHeight: 1 } },
        },
        y: {
          min: 0, max: yMax,
          afterFit: (s: any) => { s.width = 74.7; },
          border: { color: "#222", width: 1.3 },
          grid: { drawOnChartArea: false, tickLength: 7, color: "#222", lineWidth: 1.3 },
          ticks: { stepSize: step, color: "#333", padding: 6, font: { family: FONT, size: 16 } },
          title: { display: true, text: "Apoptotic incidence (%)", color: "#333", font: { family: FONT, size: 16 }, padding: { top: 18, bottom: 0 } },
        },
      },
    },
    plugins: [errorPlugin],
  };
}

function drawPage(c: HTMLCanvasElement) {
  const ctx = c.getContext("2d")!;
  ctx.strokeStyle = "#333";
  ctx.lineWidth = 1.2;
  const line = (pts: number[][]) => {
    ctx.beginPath();
    pts.forEach(([x, y], i) => (i ? ctx.lineTo(x, y) : ctx.moveTo(x, y)));
    ctx.stroke();
  };
  const axes: number[][] = [[30, 11, 476], [37, 873, 1328]];
  axes.forEach(([x, top, bot]) => {
    line([[x, top], [x, bot], [765, bot]]);
    line([[x - 5, top + 5], [x, top], [x + 5, top + 5]]);
    line([[760, bot - 5], [765, bot], [760, bot + 5]]);
  });
  ctx.fillStyle = INK;
  ctx.font = `16px ${FONT}`;
  ctx.textAlign = "center";
  ctx.textBaseline = "middle";
  const txt: [string, number, number][] = [
    ["Annexin V-FITC", 398, 489], ["(a)", 386, 515], ["(b)", 383, 843],
    ["Annexin V-FITC", 401, 1346], ["(c)", 385, 1375], ["(d)", 382, 1737],
  ];
  txt.forEach(([s, x, y]) => ctx.fillText(s, x, y));
  ([[18, 242], [17, 1098]] as number[][]).forEach(([x, y]) => {
    ctx.save();
    ctx.translate(x, y);
    ctx.rotate(-Math.PI / 2);
    ctx.fillText("PI", 0, 0);
    ctx.restore();
  });
}

export default function App() {
  const pageRef = useRef<HTMLCanvasElement>(null);
  const scatRefs = useRef<(HTMLCanvasElement | null)[]>([]);
  const bRef = useRef<HTMLCanvasElement>(null);
  const dRef = useRef<HTMLCanvasElement>(null);

  useEffect(() => {
    drawPage(pageRef.current!);
    const charts: Chart[] = [];
    panels.forEach((p, i) => {
      charts.push(new Chart(scatRefs.current[i]!, scatterConfig(p)));
    });
    charts.push(new Chart(bRef.current!, barConfig(bCats, bVals, bTops, bMarks, 40, 10, 25, 35.7)));
    charts.push(new Chart(dRef.current!, barConfig(dCats, dVals, dTops, dMarks, 30, 10, 21, 56.7)));
    return () => charts.forEach((c) => c.destroy());
  }, []);

  const abs = (left: number, top: number): React.CSSProperties => ({ position: "absolute", left, top, display: "block" });
  return (
    <div style={{ position: "absolute", left: 0, top: 0, width: 771, height: 1769, background: "#fff", overflow: "hidden" }}>
      <canvas ref={pageRef} width={771} height={1769} style={abs(0, 0)} />
      {panels.map((p, i) => (
        <canvas
          key={i}
          ref={(el) => { scatRefs.current[i] = el; }}
          width={p.box[2] + ML + MR}
          height={p.box[3] + MT + MB}
          style={{ ...abs(p.box[0] - ML, p.box[1] - MT), filter: "blur(0.3px)" }}
        />
      ))}
      <canvas ref={bRef} width={470} height={301} style={abs(150, 530)} />
      <canvas ref={dRef} width={470} height={322} style={abs(150, 1408)} />
    </div>
  );
}
